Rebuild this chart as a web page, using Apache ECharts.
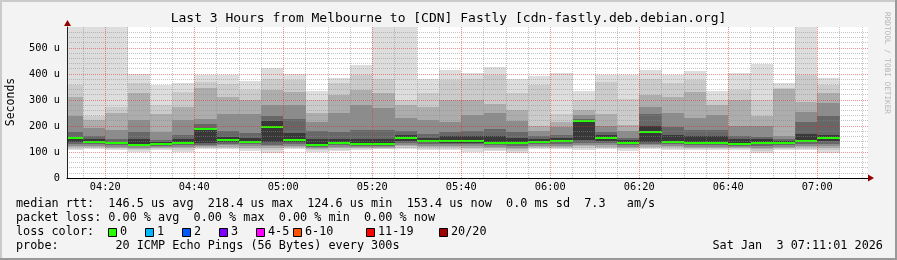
<!DOCTYPE html>
<html><head><meta charset="utf-8">
<script src="https://cdn.jsdelivr.net/npm/echarts@6/dist/echarts.min.js"></script>
<style>html,body{margin:0;padding:0;background:#f3f3f3}#c{width:897px;height:260px}</style>
</head><body><div id="c"></div>
<script>
// ---- data (values in microseconds, times HH:MM) ----
const windowStart = '04:11:24';
const windowEnd = '07:11:24';
const stepMinutes = 5;
const barStart = ['04:10','04:15','04:20','04:25','04:30','04:35','04:40','04:45','04:50','04:55',
  '05:00','05:05','05:10','05:15','05:20','05:25','05:30','05:35','05:40','05:45',
  '05:50','05:55','06:00','06:05','06:10','06:15','06:20','06:25','06:30','06:35',
  '06:40','06:45','06:50','06:55','07:00'];
// sorted ping ranks (20 pings per round)
const pingMax = [600,600,600,399,358,366,396,396,374,422,399,336,383,435,600,600,380,416,405,428,380,392,405,336,397,396,415,396,412,336,404,437,366,600,383];
const ping19 = [358,238,272,364,282,332,370,362,338,380,377,300,364,396,380,300,328,375,380,395,328,358,245,300,368,303,380,364,377,300,338,300,345,396,358];
const ping17 = [310,222,250,328,245,272,345,310,300,338,330,250,319,338,328,280,274,300,300,285,262,200,215,262,245,205,319,310,332,281,300,238,340,293,326];
const ping15 = [240,192,185,223,178,223,226,245,245,281,281,217,250,281,270,230,223,217,242,250,220,180,195,242,200,180,274,250,230,242,198,200,160,255,287];
const ping13 = [178,160,150,175,146,165,208,180,172,240,225,180,175,185,185,180,170,178,180,190,175,160,165,225,175,155,245,195,185,185,162,158,148,215,240];
const ping11 = [158,150,140,150,140,150,188,159,155,220,172,150,150,150,150,165,155,160,160,160,155,150,155,219,165,145,200,165,160,160,150,148,142,170,165];
const medianRtt = [155,140,133,128,131,136,187,146,140,197,146,125,136,131,131,152,143,142,143,136,136,140,143,218,155,136,178,140,133,134,132,134,135,144,153];
const ping10 = [140,135,129,125,128,131,133,138,135,138,137,121,130,127,128,142,137,136,136,130,130,135,138,145,142,131,140,135,129,129,128,129,130,138,142];
const ping8 = [132,130,126,121,124,126,127,132,130,128,130,118,126,123,124,134,130,130,130,126,124,130,132,135,134,127,132,130,126,126,124,124,126,132,132];
const ping6 = [124,124,120,116,119,120,122,125,122,122,122,114,119,118,119,126,123,123,122,119,116,123,124,128,126,120,126,123,120,120,119,116,120,124,122];
const ping4 = [118,120,116,112,115,114,118,120,117,115,118,110,114,115,116,121,118,118,116,114,110,119,120,122,120,115,120,118,116,116,115,110,116,118,115];
const ping2 = [112,115,112,106,110,108,114,115,111,106,114,106,109,112,113,116,113,113,110,109,103,115,116,115,115,110,115,113,110,112,111,104,112,113,106];
const pingMin = [106,110,108,101,106,101,110,110,105,97,110,101,104,108,110,110,108,108,100,104,95,110,112,108,110,105,110,108,106,108,106,97,108,108,97];
const xTickLabels = ['04:20','04:40','05:00','05:20','05:40','06:00','06:20','06:40','07:00'];
const yTickLabels = ['0','100 u','200 u','300 u','400 u','500 u'];
const lossLabels = ['0','1','2','3','4-5','6-10','11-19','20/20'];
const lossColors = ['#26ff00','#00b8ff','#0059ff','#7e00ff','#ff00ff','#ff5500','#ff0000','#a10000'];
const titleText = 'Last 3 Hours from Melbourne to [CDN] Fastly [cdn-fastly.deb.debian.org]';
const legendLines = [
  'median rtt:  146.5 us avg  218.4 us max  124.6 us min  153.4 us now  0.0 ms sd  7.3   am/s',
  'packet loss: 0.00 % avg  0.00 % max  0.00 % min  0.00 % now',
  'loss color:',
  'probe:        20 ICMP Echo Pings (56 Bytes) every 300s'
];
const dateText = 'Sat Jan  3 07:11:01 2026';

// ---- helpers / layout ----
function toMin(s){ const p = s.split(':').map(Number); return p[0]*60 + p[1] + (p[2]||0)/60; }
function fmt(m){ const h = Math.floor(m/60), mm = Math.round(m - h*60); return String(h).padStart(2,'0')+':'+String(mm).padStart(2,'0'); }
const MONO = '"DejaVu Sans Mono", "Liberation Mono", monospace';
const xMin = toMin(windowStart), xMax = toMin(windowEnd);
const plotLeft = 67, plotWidth = 801, plotTop = 27, plotHeight = 151;
const pxPerMin = plotWidth / (xMax - xMin);
const gridStart = 255, gridEnd = 430;
const RED = 'rgba(224,40,40,0.5)', GRAY = 'rgba(140,140,140,0.5)';

const data = barStart.map((s,i) => [toMin(s), toMin(s)+stepMinutes, pingMin[i], ping2[i], ping4[i], ping6[i], ping8[i], ping10[i], ping11[i], ping13[i], ping15[i], ping17[i], ping19[i], pingMax[i], medianRtt[i]]);
const LAYERS = [[2,13,'#dddddd'],[3,12,'#cbcbcb'],[4,11,'#adadad'],[5,10,'#8c8c8c'],[6,9,'#676767'],[7,8,'#383838']];

const xColors = [];
for (let t = gridStart; t <= gridEnd + 0.001; t += 5) xColors.push(xTickLabels.indexOf(fmt(t)) >= 0 ? RED : GRAY);
const yColors = [];
for (let v = 0; v <= 580; v += 20) yColors.push(v === 580 ? 'rgba(0,0,0,0)' : (v % 100 === 0 ? RED : GRAY));

function renderItem(params, api){
  const cs = params.coordSys;
  const clipR = {x: cs.x, y: cs.y, width: cs.width, height: cs.height};
  const x0 = api.value(0), x1 = api.value(1);
  const children = [];
  LAYERS.forEach(([lo, hi, fill]) => {
    const a = api.coord([x0, api.value(hi)]), b = api.coord([x1, api.value(lo)]);
    const ax = Math.round(a[0]), ay = Math.round(a[1]), bx = Math.round(b[0]), by = Math.round(b[1]);
    const r = echarts.graphic.clipRectByRect({x: ax, y: ay, width: bx-ax, height: by-ay}, clipR);
    if (r) children.push({type:'rect', shape: r, style: {fill: fill}});
  });
  const m = api.coord([x0, api.value(14)]), e = api.coord([x1, api.value(14)]);
  const my = Math.round(m[1]);
  const mr = echarts.graphic.clipRectByRect({x: Math.round(m[0]), y: my-1, width: Math.round(e[0])-Math.round(m[0]), height: 2}, clipR);
  if (mr) children.push({type:'rect', shape: mr, style: {fill: lossColors[0]}});
  return {type:'group', children};
}

const graphics = [
  {type:'rect', shape:{x:0,y:0,width:897,height:2}, style:{fill:'#cbcbcb'}},
  {type:'rect', shape:{x:0,y:0,width:2,height:260}, style:{fill:'#cbcbcb'}},
  {type:'rect', shape:{x:0,y:258,width:897,height:2}, style:{fill:'#999999'}},
  {type:'rect', shape:{x:895,y:0,width:2,height:260}, style:{fill:'#999999'}},
  {type:'text', x: 448.5, y: 19, style:{text: titleText, font: '13px '+MONO, fill:'#000', align:'center', verticalAlign:'middle', textAlign:'center', textVerticalAlign:'middle'}},
  {type:'text', x: 11, y: 102, rotation: Math.PI/2, style:{text:'Seconds', font:'11.5px '+MONO, fill:'#000', align:'center', verticalAlign:'middle', textAlign:'center', textVerticalAlign:'middle'}},
  {type:'text', x: 887, y: 63, rotation: -Math.PI/2, style:{text:'RRDTOOL / TOBI OETIKER', font:'7.7px '+MONO, fill:'#b4b4b4', align:'center', verticalAlign:'middle', textAlign:'center', textVerticalAlign:'middle'}},
  {type:'polygon', shape:{points:[[868,174.5],[874,178],[868,181.5]]}, style:{fill:'#900000'}, z: 20},
  {type:'polygon', shape:{points:[[64,26],[67.5,20],[71,26]]}, style:{fill:'#900000'}, z: 20},
  {type:'text', x: 712.5, y: 246, style:{text: dateText, font:'11.8px '+MONO, fill:'#000', verticalAlign:'middle', textVerticalAlign:'middle'}}
];
const lineY = [204, 218, 232, 246];
legendLines.forEach((t,i) => graphics.push({type:'text', x: 16, y: lineY[i], style:{text: t, font:'11.8px '+MONO, fill:'#000', verticalAlign:'middle', textVerticalAlign:'middle'}}));
const boxX = [108.5, 145.5, 182.5, 219.5, 256.5, 293.5, 366.5, 439.5];
lossLabels.forEach((l,i) => {
  graphics.push({type:'rect', shape:{x: boxX[i], y: 228.5, width: 8, height: 8}, style:{fill: lossColors[i], stroke:'#000', lineWidth: 1}});
  graphics.push({type:'text', x: boxX[i] + 11.5, y: 232, style:{text: l, font:'11.8px '+MONO, fill:'#000', verticalAlign:'middle', textVerticalAlign:'middle'}});
});

const chart = echarts.init(document.getElementById('c'), null, {renderer:'canvas', devicePixelRatio: 1});
chart.setOption({
  animation: false,
  backgroundColor: '#f3f3f3',
  grid: [
    {left: plotLeft, top: plotTop, width: plotWidth, height: plotHeight, show: true, backgroundColor: '#ffffff', borderWidth: 0},
    {left: plotLeft + (gridStart - xMin)*pxPerMin, top: plotTop, width: (gridEnd - gridStart)*pxPerMin, height: plotHeight, show: false}
  ],
  xAxis: [
    {gridIndex: 0, type:'value', min: xMin, max: xMax, z: 12,
     axisLine:{show:true, onZero:false, lineStyle:{color:'#000', width:1}}, axisTick:{show:false}, axisLabel:{show:false}, splitLine:{show:false}},
    {gridIndex: 1, type:'value', min: gridStart, max: gridEnd, interval: 5, z: 10,
     axisLine:{show:false}, axisTick:{show:false},
     axisLabel:{show:true, margin: 4, color:'#000', fontFamily: MONO, fontSize: 10.3,
       formatter: v => { const s = fmt(v); return xTickLabels.indexOf(s) >= 0 ? s : ''; }},
     splitLine:{show:true, lineStyle:{color: xColors, type:[1,1], width:1}}}
  ],
  yAxis: [
    {gridIndex: 0, type:'value', min: 0, max: 580, interval: 20, z: 10,
     axisLine:{show:true, lineStyle:{color:'#222', width:1}}, axisTick:{show:false},
     axisLabel:{margin: 7, color:'#000', fontFamily: MONO, fontSize: 10.3,
       formatter: v => (v % 100 === 0 && yTickLabels[v/100] !== undefined) ? yTickLabels[v/100] : ''},
     splitLine:{show:true, lineStyle:{color: yColors, type:[1,1], width:1}}},
    {gridIndex: 1, type:'value', min: 0, max: 580, show: false}
  ],
  series: [{type:'custom', xAxisIndex:0, yAxisIndex:0, silent:true, z:2, renderItem, encode:{x:[0,1], y:[2,13]}, data}],
  graphic: graphics
});
</script></body></html>
